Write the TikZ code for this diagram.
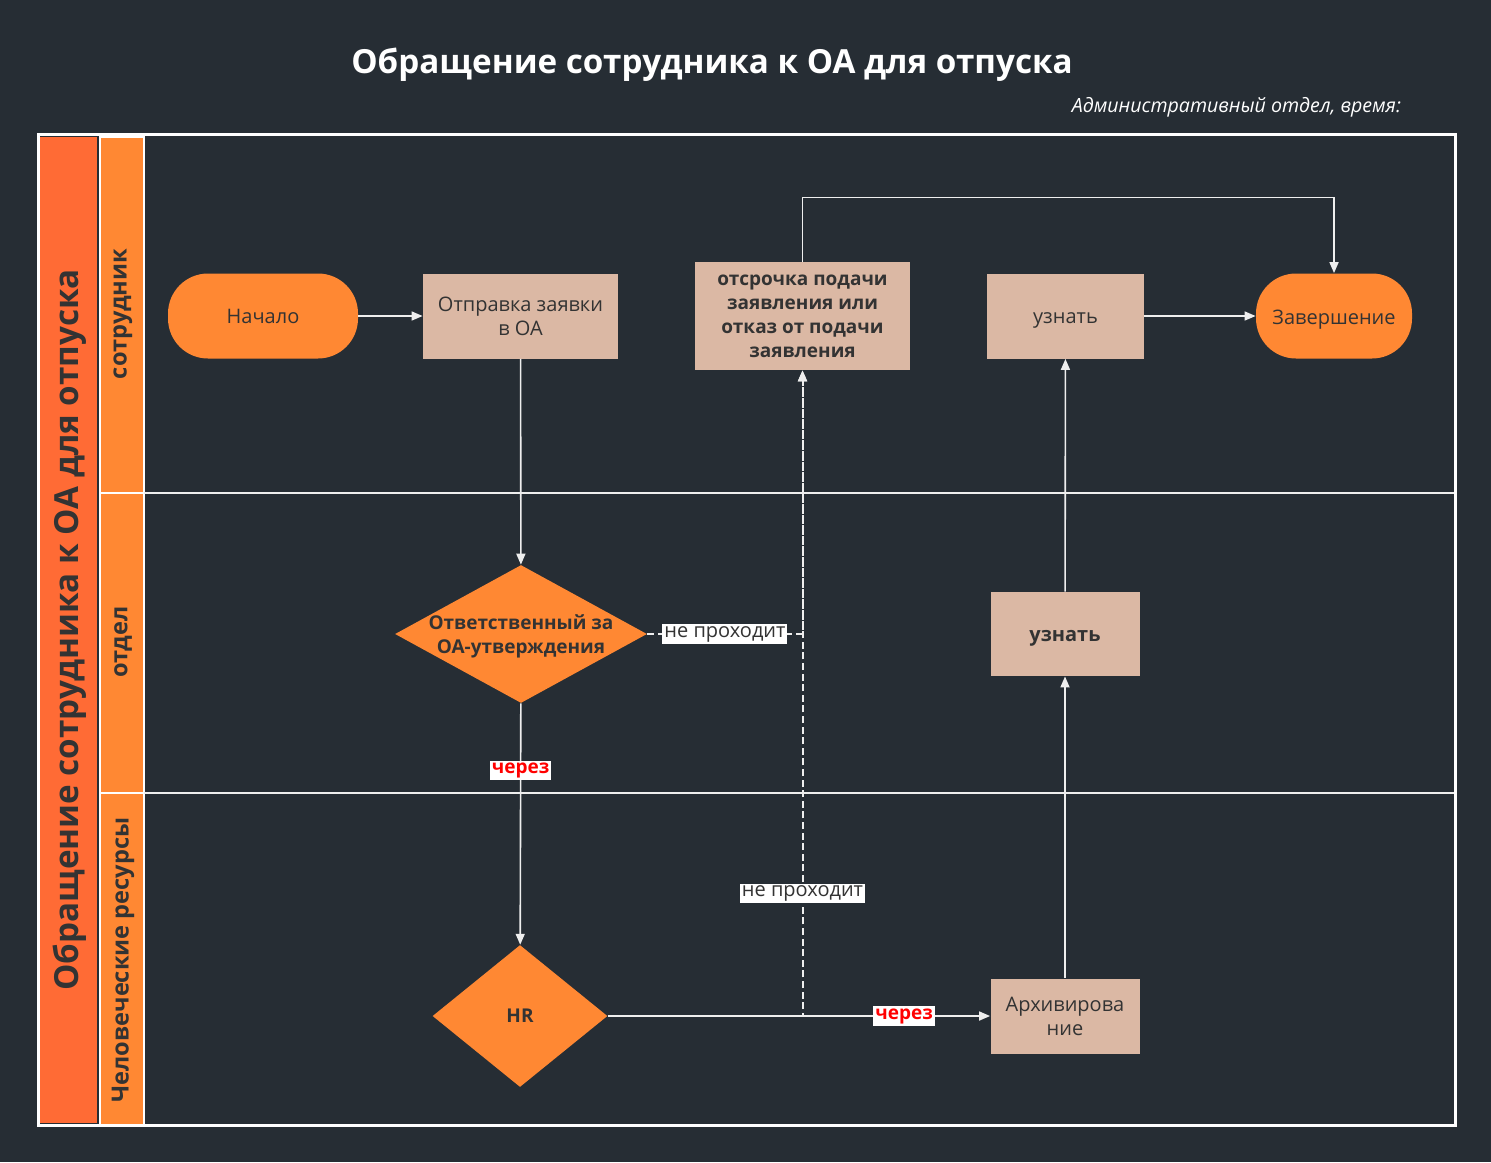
\documentclass[tikz,border=0pt]{standalone}
\usepackage{fontspec}
\setmainfont{Open Sans}
\usetikzlibrary{shapes.geometric, arrows.meta, positioning}
\definecolor{oabg}{RGB}{38, 45, 52}
\definecolor{oaorange}{RGB}{255, 136, 51}
\definecolor{oared}{RGB}{255, 107, 53}
\definecolor{oatan}{RGB}{219, 184, 164}
\definecolor{oatext}{RGB}{51, 51, 51}
\definecolor{oaline}{RGB}{238, 238, 238}
\newcommand{\lowtext}[1]{\raisebox{-2pt}[\height][\depth]{#1}}
\tikzset{
  termbox/.style={rectangle, rounded corners=20pt, fill=oaorange, text=oatext,
                  minimum width=#1, minimum height=42.5pt, align=center,
                  font=\fontsize{10}{12}\selectfont},
  termbox/.default=95pt,
  taskbox/.style={rectangle, fill=oatan, text=oatext, align=center, inner sep=2pt,
                  font=\fontsize{10}{12}\selectfont},
  decision/.style={diamond, fill=oaorange, inner sep=0pt},
  decitext/.style={text=oatext, align=center, font=\bfseries\fontsize{9.5}{12}\selectfont},
  lanetext/.style={rotate=90, text=oatext, font=\bfseries\fontsize{11.8}{14}\selectfont},
  flow/.style={-{Triangle[length=5.5pt, width=4.5pt]}, line width=0.8pt, draw=oaline},
  nopass/.style={flow, line width=1pt, dash pattern=on 3.5pt off 1.8pt},
  passlbl/.style={fill=white, text=red, inner sep=1pt, font=\bfseries\fontsize{9.5}{11}\selectfont},
  faillbl/.style={fill=white, text=oatext, inner sep=1pt, font=\fontsize{10}{11}\selectfont},
}
\begin{document}
\begin{tikzpicture}[x=0.5pt, y=-0.5pt]
% pool and lanes
\fill[oabg] (0,0) rectangle (1491,1162);
\fill[oared] (40,137) rectangle (97,1123);
\foreach \ya/\yb in {137/493, 493/793, 793/1125}
  \draw[fill=oaorange, draw=white, line width=0.8pt] (100,\ya) rectangle (144,\yb);
\draw[oaline, line width=0.8pt] (144,493) -- (1455,493);
\draw[oaline, line width=0.8pt] (144,793) -- (1455,793);
\draw[white, line width=1.5pt] (38,134) rectangle (1455,1125);

\node[text=white, font=\bfseries\fontsize{16.6}{19}\selectfont] (title) at (712,65)
     {Обращение сотрудника к ОА для отпуска};
\node[anchor=east, text=white, font=\itshape\fontsize{9.8}{12}\selectfont] (subtitle) at (1408,107)
     {Административный отдел, время:};
\node[rotate=90, text=oatext, font=\bfseries\fontsize{16.6}{19}\selectfont] (pooltitle) at (70,630)
     {Обращение сотрудника к ОА для отпуска};
\node[lanetext] (laneemp) at (123,314) {сотрудник};
\node[lanetext] (lanedep) at (123,642) {отдел};
\node[lanetext] (lanehr) at (123,960) {Человеческие ресурсы};

% steps
\node[termbox=95pt] (begin) at (263,316) {Начало};
\node[taskbox, minimum width=97.5pt, minimum height=42.5pt] (send) at (520.5,316) {Отправка заявки\\в ОА};
\node[taskbox, font=\bfseries\fontsize{9.5}{12}\selectfont, minimum width=107.5pt, minimum height=54pt]
     (delay) at (802.5,316) {отсрочка подачи\\заявления или\\отказ от подачи\\заявления};
\node[taskbox, minimum width=78.5pt, minimum height=42.5pt] (learnA) at (1065.5,316) {\lowtext{узнать}};
\node[termbox=78pt] (finish) at (1334,316) {\lowtext{Завершение}};
\node[decision, minimum width=126pt, minimum height=69pt,
      label={[decitext, yshift=-1pt]center:{Ответственный за\\ОА-утверждения}}] (approve) at (521,634) {};
\node[taskbox, font=\bfseries\fontsize{10}{12}\selectfont, minimum width=74.5pt, minimum height=42pt]
     (learnB) at (1065,634) {\lowtext{узнать}};
\node[decision, minimum width=87.5pt, minimum height=71pt,
      label={[decitext]center:{HR}}] (hr) at (520,1016) {};
\node[taskbox, minimum width=74.5pt, minimum height=37.5pt] (archive) at (1065,1016) {Архивирова\\ние};

% connectors
\draw[flow] (begin) -- (send);
\draw[flow] (send) -- (approve);
\draw[flow] (approve) -- node[passlbl, pos=0.28] {через} (hr);
\draw[nopass] (approve.east) -- node[faillbl] {не проходит} (approve.east -| delay.south) -- (delay.south);
\draw[nopass] (hr.east) -- (hr.east -| delay.south) -- node[faillbl, pos=0.19] {не проходит} (delay.south);
\draw[flow] (hr) -- node[passlbl, pos=0.775] {через} (archive);
\draw[flow] (delay.north) -- ++(0,-64) -| (finish.north);
\draw[flow] (learnA) -- (finish);
\draw[flow] (archive) -- (learnB);
\draw[flow] (learnB) -- (learnA);
\end{tikzpicture}
\end{document}
